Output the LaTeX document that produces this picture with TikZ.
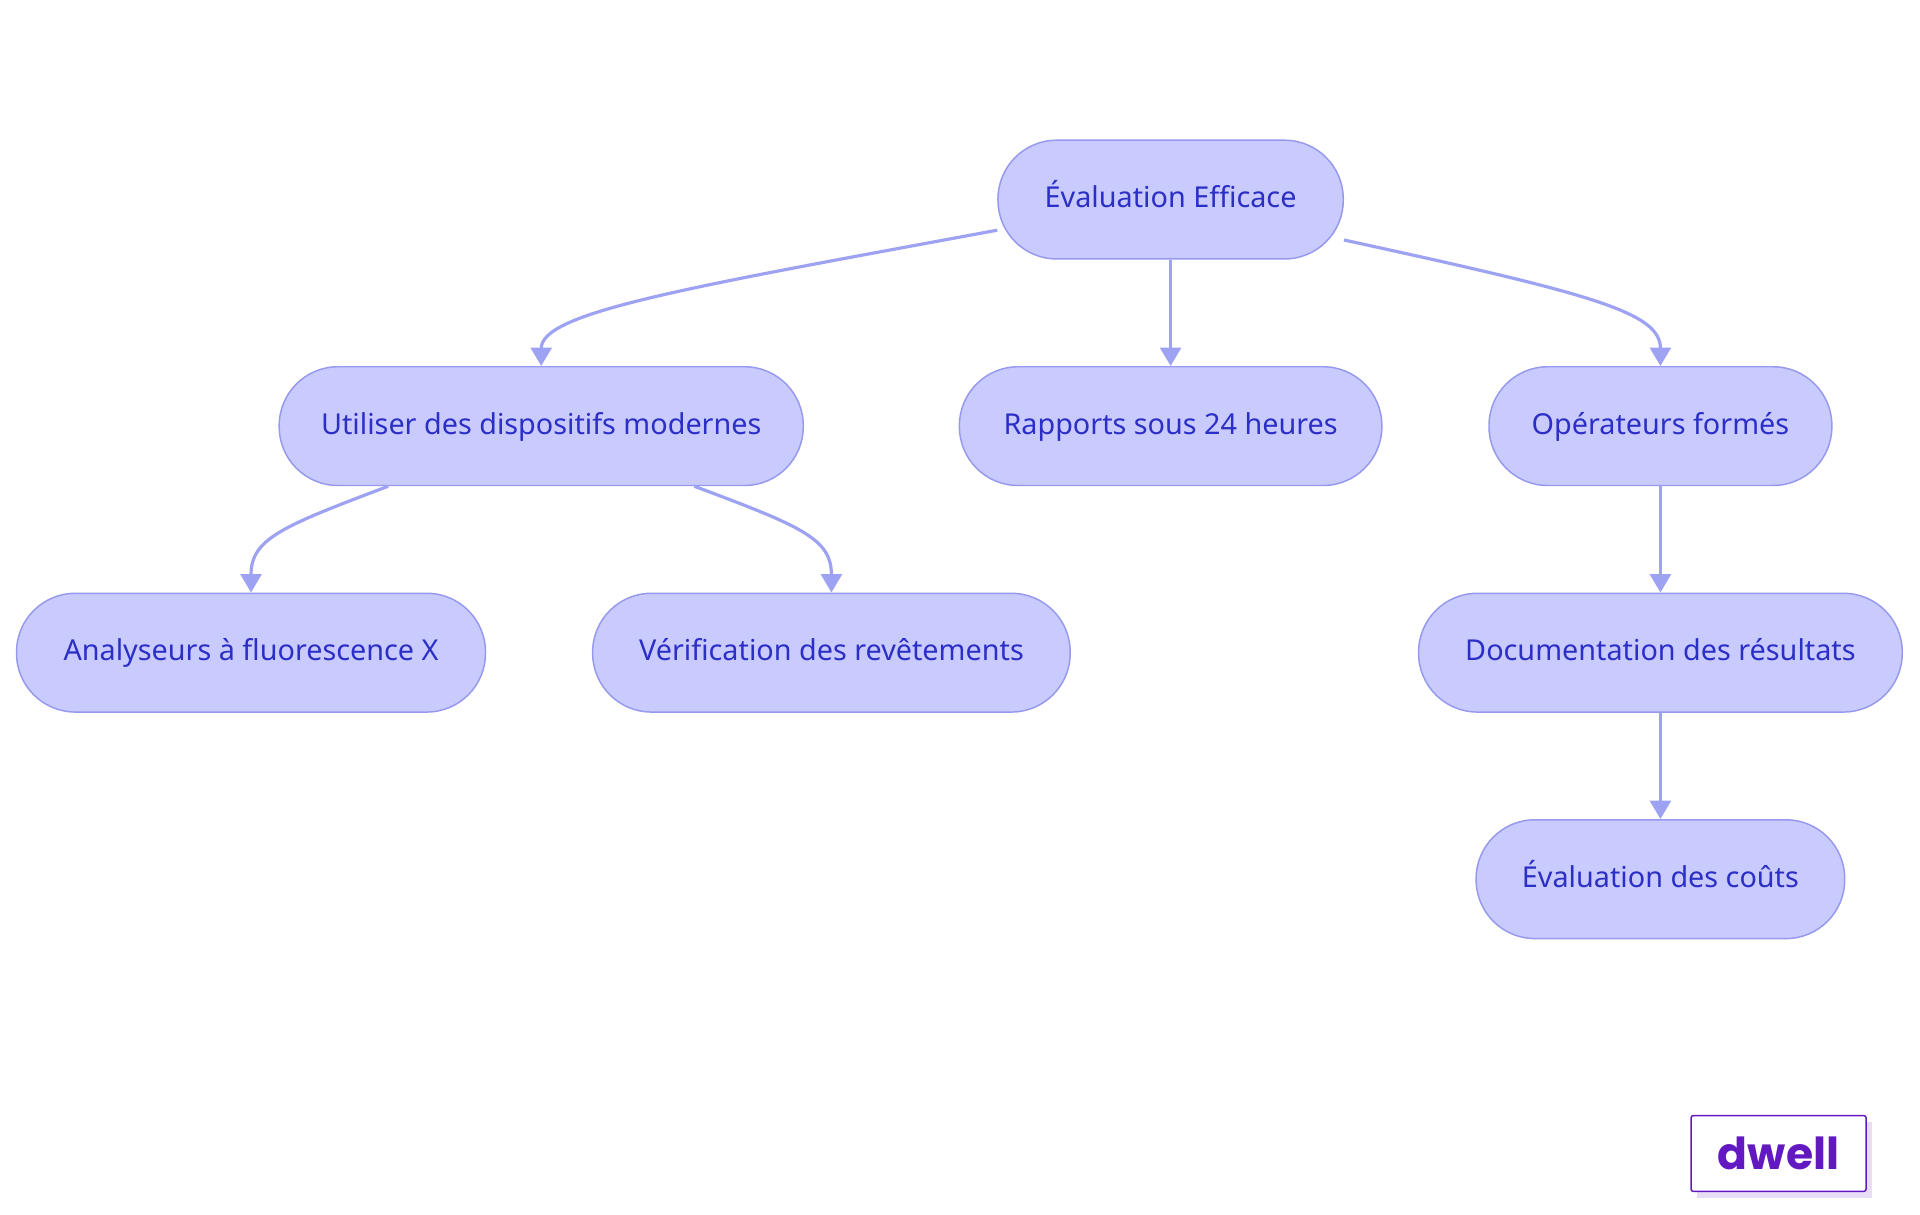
\documentclass[tikz,border=0pt]{standalone}
\usepackage{fontspec}
\setmainfont{Noto Sans}
\newfontfamily\logofont{Poppins}
\usetikzlibrary{arrows.meta}
\definecolor{nfill}{HTML}{C9CAFD}
\definecolor{nline}{HTML}{9699EE}
\definecolor{ntext}{HTML}{2B2FC6}
\definecolor{edge}{HTML}{9EA2F2}
\definecolor{logo}{HTML}{6219C2}
\begin{document}
\begin{tikzpicture}[x=1pt,y=-1pt,
  box/.style={draw=nline,fill=nfill,line width=1.2pt,rounded corners=48pt,minimum height=97pt,inner sep=0pt,text=ntext,text height=17pt,text depth=4pt,font=\fontsize{23.5}{26}\selectfont},
  conn/.style={draw=edge,line width=2.6pt,-{Triangle[length=15pt,width=17pt]}}]
\useasboundingbox (0,0) rectangle (1568,992);
\node[box,minimum width=282pt] (top) at (956,163) {Évaluation Efficace};
\node[box,minimum width=428pt] (util) at (442,348) {Utiliser des dispositifs modernes};
\node[box,minimum width=345pt] (rap) at (956,348) {Rapports sous 24 heures};
\node[box,minimum width=280pt] (op) at (1356,348) {Opérateurs formés};
\node[box,minimum width=383pt] (ana) at (205,533) {Analyseurs à fluorescence X};
\node[box,minimum width=390pt] (ver) at (679,533) {Vérification des revêtements};
\node[box,minimum width=395pt] (doc) at (1356,533) {Documentation des résultats};
\node[box,minimum width=301pt] (cout) at (1356,718) {Évaluation des coûts};
\draw[conn] ([yshift=-25pt]top.west) .. controls (560,235) and (442,255) .. (util.north);
\draw[conn] (top.south) -- (rap.north);
\draw[conn] ([yshift=-33pt]top.east) .. controls (1300,240) and (1356,255) .. (op.north);
\draw[conn] ([xshift=-125pt]util.south) .. controls (230,430) and (205,440) .. (ana.north);
\draw[conn] ([xshift=125pt]util.south) .. controls (655,430) and (679,440) .. (ver.north);
\draw[conn] (op.south) -- (doc.north);
\draw[conn] (doc.south) -- (cout.north);
\fill[logo!15] (1386,916) rectangle (1529,978);
\node[draw=logo,fill=white,line width=1.2pt,rounded corners=2pt,minimum width=143pt,minimum height=62pt,inner sep=0pt,text=logo,font=\logofont\fontsize{36}{38}\selectfont\bfseries] (logo) at (1452.5,942) {dwell};
\end{tikzpicture}
\end{document}
